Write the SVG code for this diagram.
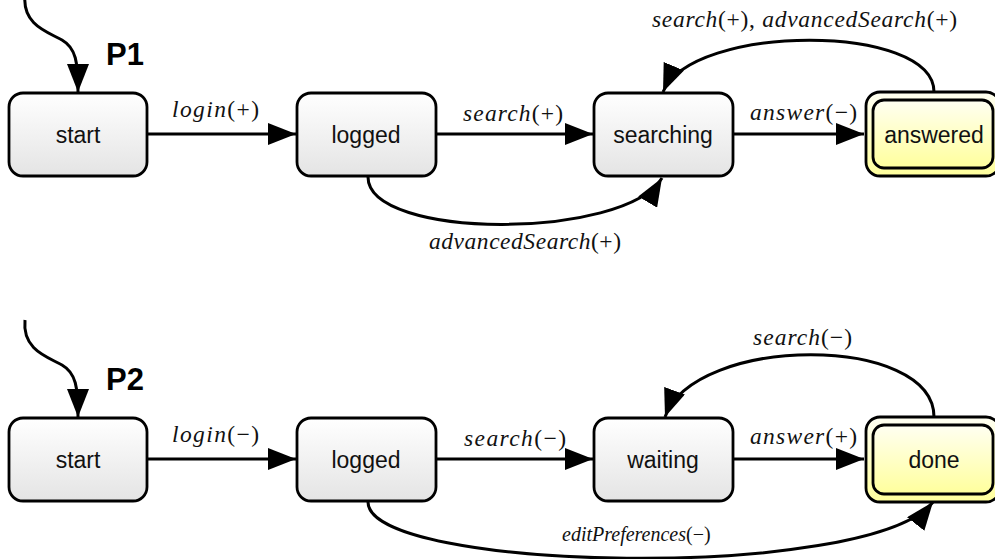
<svg xmlns="http://www.w3.org/2000/svg" width="995" height="559" viewBox="0 0 995 559">
<defs>
<linearGradient id="gGray" x1="0" y1="0" x2="0" y2="1">
<stop offset="0" stop-color="#ffffff"/>
<stop offset="1" stop-color="#e4e4e4"/>
</linearGradient>
<linearGradient id="gYel" x1="0" y1="0" x2="0" y2="1">
<stop offset="0" stop-color="#fffff2"/>
<stop offset="1" stop-color="#ffff9c"/>
</linearGradient>
<marker id="arr" markerUnits="userSpaceOnUse" markerWidth="30" markerHeight="22" refX="28" refY="11" orient="auto">
<path d="M0,0 L28,11 L0,22 z" fill="#000"/>
</marker>
</defs>
<style>
.box{fill:url(#gGray);stroke:#000;stroke-width:2.8}
.fin{fill:url(#gYel);stroke:#000;stroke-width:2.8}
.nt{font-family:"Liberation Sans",Arial,sans-serif;font-size:23px;text-anchor:middle;fill:#111}
.ttl{font-family:"Liberation Sans",Arial,sans-serif;font-size:31px;font-weight:bold;fill:#000}
.lbl{font-family:"Liberation Serif","Times New Roman",serif;font-size:23.5px;fill:#111}
.it{font-style:italic}
.ed{fill:none;stroke:#000;stroke-width:3;marker-end:url(#arr)}
</style>

<g id="connectors">
<path class="ed" d="M25,-5 C22,25 48,32 62,40 C76,48 78,62 78,92"/>
<path class="ed" d="M147,134 L296,134"/>
<path class="ed" d="M436,134 L593,134"/>
<path class="ed" d="M733,134 L864,134"/>
<path class="ed" d="M934,92 C934,23 692,23 663,92"/>
<path class="ed" d="M368,177 C368,240 625,240 662,178"/>

<path class="ed" d="M25,320 C22,350 48,357 62,365 C76,373 78,387 78,417"/>
<path class="ed" d="M147,459 L296,459"/>
<path class="ed" d="M436,459 L593,459"/>
<path class="ed" d="M733,459 L864,459"/>
<path class="ed" d="M934,417 C934,334 695,334 665,417"/>
<path class="ed" d="M368,502 C368,572 870,582 933,502"/>
</g>

<g id="labels">
<text class="ttl" x="106" y="65">P1</text>
<text class="lbl" x="172" y="117" textLength="87" lengthAdjust="spacing"><tspan class="it">login</tspan>(+)</text>
<text class="lbl" x="463" y="121" textLength="100" lengthAdjust="spacing"><tspan class="it">search</tspan>(+)</text>
<text class="lbl" x="750" y="120" textLength="107" lengthAdjust="spacing"><tspan class="it">answer</tspan>(−)</text>
<text class="lbl" x="652" y="27" textLength="305" lengthAdjust="spacing"><tspan class="it">search</tspan>(+), <tspan class="it">advancedSearch</tspan>(+)</text>
<text class="lbl" x="429" y="249" textLength="192" lengthAdjust="spacing"><tspan class="it">advancedSearch</tspan>(+)</text>

<text class="ttl" x="106" y="390">P2</text>
<text class="lbl" x="172" y="442" textLength="87" lengthAdjust="spacing"><tspan class="it">login</tspan>(−)</text>
<text class="lbl" x="464" y="446" textLength="102" lengthAdjust="spacing"><tspan class="it">search</tspan>(−)</text>
<text class="lbl" x="750" y="444" textLength="107" lengthAdjust="spacing"><tspan class="it">answer</tspan>(+)</text>
<text class="lbl" x="753" y="345" textLength="99" lengthAdjust="spacing"><tspan class="it">search</tspan>(−)</text>
<text class="lbl" x="562" y="541" style="font-size:20px"><tspan class="it">editPreferences</tspan>(−)</text>
</g>

<g id="p1-start"><rect class="box" x="9" y="93" width="138" height="83" rx="14"/><text class="nt" x="78" y="143">start</text></g>
<g id="p1-logged"><rect class="box" x="297" y="93" width="139" height="83" rx="14"/><text class="nt" x="366" y="143">logged</text></g>
<g id="p1-searching"><rect class="box" x="594" y="93" width="139" height="83" rx="14"/><text class="nt" x="663" y="143">searching</text></g>
<g id="p1-answered"><rect class="fin" x="866" y="92" width="134" height="84" rx="14"/><rect class="fin" x="873" y="100" width="120" height="68" rx="11"/><text class="nt" x="934" y="143">answered</text></g>

<g id="p2-start"><rect class="box" x="9" y="418" width="138" height="83" rx="14"/><text class="nt" x="78" y="468">start</text></g>
<g id="p2-logged"><rect class="box" x="297" y="418" width="139" height="83" rx="14"/><text class="nt" x="366" y="468">logged</text></g>
<g id="p2-waiting"><rect class="box" x="594" y="418" width="139" height="83" rx="14"/><text class="nt" x="663" y="468">waiting</text></g>
<g id="p2-done"><rect class="fin" x="866" y="417" width="134" height="85" rx="14"/><rect class="fin" x="873" y="425" width="120" height="69" rx="11"/><text class="nt" x="934" y="468">done</text></g>
</svg>
